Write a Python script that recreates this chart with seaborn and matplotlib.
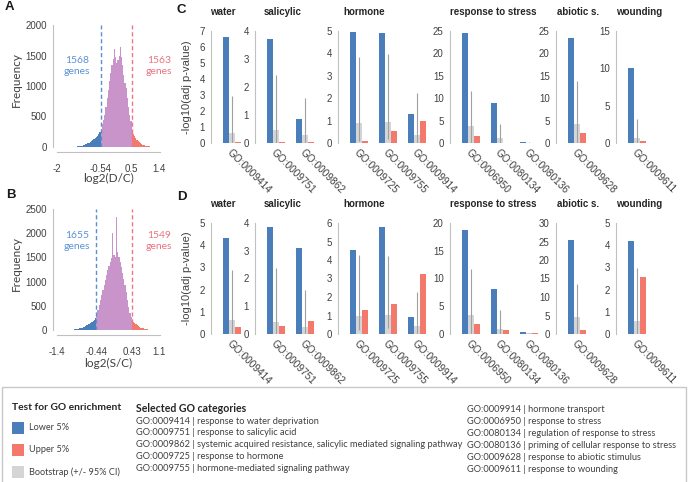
#!/usr/bin/env python3

import numpy as np
import pandas as pd
import matplotlib
matplotlib.use("Agg")
from matplotlib import pyplot as plt
from matplotlib.patches import Rectangle
import seaborn as sns

W, H = 688, 482

blue = "#4a7ebb"
red = "#f2796b"
grey = "#d5d5d5"
purple = "#c894c9"
ci_color = "#a0a0a0"
text_color = "#404040"
axis_color = "#c0c0c0"
blue_text = "#5a93d6"
red_text = "#ea7380"

# ---- histogram data (bar heights) ----
a_cuts = (-0.54, 0.5)
a_xticks = [-2, -0.54, 0.5, 1.4]
a_yticks = [0, 500, 1000, 1500, 2000]
a_range = (-1.5, 1.3)
a_lower_counts = [2, 3, 5, 7, 9, 12, 15, 19, 24, 29, 35, 42, 50, 59, 69, 80,
                  93, 107, 123, 141, 162, 186, 214, 250]
a_middle_counts = [300, 380, 450, 520, 650, 800, 940, 1080, 1220, 1340, 1450,
                   1600, 1480, 1380, 1420, 1500, 1640, 1480, 1340, 1180, 1050,
                   960, 800, 650, 520, 420]
a_upper_counts = [260, 215, 178, 146, 118, 95, 76, 60, 47, 37, 29, 22, 17, 13,
                  10, 8, 6, 4, 3, 2]
a_genes = ("1568", "1563")

b_cuts = (-0.44, 0.43)
b_xticks = [-1.4, -0.44, 0.43, 1.1]
b_yticks = [0, 500, 1000, 1500, 2000, 2500]
b_range = (-1.1, 0.97)
b_lower_counts = [2, 4, 6, 9, 12, 16, 21, 27, 34, 42, 51, 61, 72, 85, 99, 114,
                  131, 150, 170, 192, 216, 245]
b_middle_counts = [330, 420, 520, 620, 720, 830, 930, 1040, 1140, 1230, 1320,
                   1400, 1480, 2000, 1550, 1500, 2330, 1620, 1500, 1400, 1310,
                   1180, 1050, 920, 780, 620, 480, 360, 260]
b_upper_counts = [210, 175, 145, 120, 98, 80, 64, 51, 40, 31, 24, 18, 13, 9, 6,
                  4, 3, 2]
b_genes = ("1655", "1549")

# ---- GO enrichment data ----
group_names = ["water", "salicylic", "hormone", "response to stress",
               "abiotic s.", "wounding"]
group_terms = [
    ["GO:0009414"],
    ["GO:0009751", "GO:0009862"],
    ["GO:0009725", "GO:0009755", "GO:0009914"],
    ["GO:0006950", "GO:0080134", "GO:0080136"],
    ["GO:0009628"],
    ["GO:0009611"],
]
series_names = ["Lower 5%", "Bootstrap", "Upper 5%"]

c_ymax = [7, 4, 5, 25, 25, 15]
c_ystep = [1, 1, 1, 5, 5, 5]
c_lower = [6.6, 3.70, 0.87, 4.95, 4.92, 1.28, 24.6, 9.0, 0.3, 23.5, 10.05]
c_boot = [0.62, 0.45, 0.27, 0.90, 0.94, 0.37, 3.75, 1.1, 0.1, 4.35, 0.68]
c_ci_low = [0, 0, 0, 0.1, 0.2, 0, 0, 0, 0, 0, 0]
c_ci_high = [2.94, 2.42, 1.61, 3.82, 3.97, 2.21, 11.5, 4.35, 0.3, 13.75, 3.2]
c_upper = [0.05, 0.02, 0.02, 0.07, 0.54, 0.96, 1.5, 0.05, 0.05, 2.25, 0.22]

d_ymax = [5, 4, 6, 20, 30, 5]
d_ystep = [1, 1, 1, 5, 5, 1]
d_lower = [4.33, 3.84, 3.10, 4.53, 5.80, 0.93, 18.8, 8.05, 0.36, 25.3, 4.2]
d_boot = [0.63, 0.45, 0.25, 0.99, 1.04, 0.45, 3.5, 0.96, 0.15, 4.5, 0.57]
d_ci_low = [0, 0, 0, 0.23, 0.3, 0, 0, 0, 0, 0, 0]
d_ci_high = [2.88, 2.38, 1.58, 4.25, 4.2, 2.28, 11.7, 4.4, 0.2, 13.5, 2.97]
d_upper = [0.33, 0.30, 0.48, 1.29, 1.6, 3.24, 1.86, 0.78, 0.2, 1.2, 2.57]

# ---- legend text ----
test_title = "Test for GO enrichment"
test_labels = ["Lower 5%", "Upper 5%", "Bootstrap (+/- 95% CI)"]
go_title = "Selected GO categories"
go_left = [
    "GO:0009414 | response to water deprivation",
    "GO:0009751 | response to salicylic acid",
    "GO:0009862 | systemic acquired resistance, salicylic mediated signaling pathway",
    "GO:0009725 | response to hormone",
    "GO:0009755 | hormone-mediated signaling pathway",
]
go_right = [
    "GO:0009914 | hormone transport",
    "GO:0006950 | response to stress",
    "GO:0080134 | regulation of response to stress",
    "GO:0080136 | priming of cellular response to stress",
    "GO:0009628 | response to abiotic stimulus",
    "GO:0009611 | response to wounding",
]

calibri_like = ["Lato", "DejaVu Sans"]


def px_axes(fig, left, top, width, height):
    return fig.add_axes([left / W, 1 - (top + height) / H, width / W, height / H])


def ftext(fig, x, y, s, **kw):
    return fig.text(x / W, 1 - y / H, s, **kw)


def draw_histogram(fig, top, height, rng, cuts, counts, xticks, yticks,
                   xlim, genes, xlabel, label_y, genes_y):
    ax = px_axes(fig, 57, top, 103, height)
    parts = [
        (rng[0], cuts[0], counts[0], blue),
        (cuts[0], cuts[1], counts[1], purple),
        (cuts[1], rng[1], counts[2], red),
    ]
    for lo, hi, cnt, col in parts:
        edges = np.linspace(lo, hi, len(cnt) + 1)
        df = pd.DataFrame({"v": (edges[:-1] + edges[1:]) / 2, "n": cnt})
        sns.histplot(data=df, x="v", weights="n", bins=list(edges), color=col,
                     alpha=1, linewidth=0, ax=ax)
    ax.axvline(cuts[0], color="#5b8fd3", ls=(0, (3, 2)), lw=1.0)
    ax.axvline(cuts[1], color="#ef7585", ls=(0, (3, 2)), lw=1.0)
    ax.set_xlim(*xlim)
    ax.set_ylim(0, yticks[-1])
    ax.set_xticks(xticks)
    ax.set_xticklabels([f"{t:g}" for t in xticks])
    ax.set_yticks(yticks)
    ax.set_xlabel("")
    ax.set_ylabel("")
    sns.despine(ax=ax)
    ax.spines["left"].set_position(("outward", 3))
    ax.spines["bottom"].set_position(("outward", 3.6))
    for side in ["left", "bottom"]:
        ax.spines[side].set_color(axis_color)
        ax.spines[side].set_linewidth(0.8)
    ax.tick_params(axis="both", labelsize=7, colors=axis_color,
                   labelcolor=text_color, length=2.5, width=0.7, pad=2)
    ax.tick_params(axis="x", pad=6)
    ftext(fig, 16, top + height / 2 - 6, "Frequency", rotation=90, ha="center",
          va="center", fontsize=8.5, color=text_color, family=calibri_like)
    ftext(fig, 108, label_y, xlabel, ha="center", va="center", fontsize=8.5,
          color=text_color, family=calibri_like)
    ftext(fig, 77, genes_y, f"{genes[0]}\ngenes", ha="center", va="center",
          fontsize=7.5, color=blue_text, family=calibri_like, linespacing=1.25)
    ftext(fig, 159, genes_y, f"{genes[1]}\ngenes", ha="center", va="center",
          fontsize=7.5, color=red_text, family=calibri_like, linespacing=1.25)


def draw_go_panel(fig, top, height, ymaxes, ysteps, lower, boot, ci_low,
                  ci_high, upper):
    lefts = [211, 255, 338, 450, 556, 616]
    title_dx = [-1, 9, 5, 0, 1, 0]
    k = 0
    for i, (name, terms) in enumerate(zip(group_names, group_terms)):
        n = len(terms)
        sl = slice(k, k + n)
        k += n
        df = pd.DataFrame({
            "go": terms * 3,
            "series": [s for s in series_names for _ in terms],
            "value": lower[sl] + boot[sl] + upper[sl],
        })
        ax = px_axes(fig, lefts[i], top, 29 * (n + 0.17), height)
        sns.barplot(data=df, x="go", y="value", hue="series", order=terms,
                    hue_order=series_names, palette=[blue, grey, red],
                    width=0.62, saturation=1, errorbar=None, legend=False,
                    linewidth=0, ax=ax)
        ax.vlines(range(n), ci_low[sl], ci_high[sl], color=ci_color, lw=0.8,
                  zorder=5)
        ax.set_xlim(-0.72, n - 1 + 0.45)
        ax.set_ylim(0, ymaxes[i])
        ax.set_yticks(np.arange(0, ymaxes[i] + ysteps[i], ysteps[i]))
        ax.set_xticks(range(n))
        ax.set_xticklabels(terms, rotation=-45, ha="left", va="top",
                           rotation_mode="anchor", fontsize=7.3,
                           color=text_color)
        ax.set_xlabel("")
        ax.set_ylabel("")
        sns.despine(ax=ax, bottom=True)
        ax.spines["left"].set_color(axis_color)
        ax.spines["left"].set_linewidth(0.8)
        ax.tick_params(axis="y", labelsize=7, colors=axis_color,
                       labelcolor=text_color, length=2.5, width=0.7, pad=2)
        ax.tick_params(axis="x", length=0, pad=3)
        ax.annotate(name, xy=(0, 1), xycoords="axes fraction",
                    xytext=(title_dx[i] * 0.72, 13.5), textcoords="offset points",
                    ha="left", va="center", fontsize=7, fontweight="bold",
                    color="#262626")
    ftext(fig, 187, top + height / 2, "-log10(adj p-value)", rotation=90,
          ha="center", va="center", fontsize=8, color=text_color)


def draw_legend(fig):
    fig.add_artist(Rectangle((2 / W, -0.01), 684 / W, (482 - 387) / H + 0.01,
                             transform=fig.transFigure, fill=False,
                             edgecolor="#c8c8c8", lw=1))
    ftext(fig, 12, 408, test_title, ha="left", va="center", fontsize=7.4,
          fontweight="bold", color="#262626", family=calibri_like)
    ftext(fig, 136, 408, go_title, ha="left", va="center", fontsize=7.6,
          fontweight="bold", color="#262626", family=calibri_like)
    for j, (label, col) in enumerate(zip(test_labels, [blue, red, grey])):
        y = 428 + 22 * j
        fig.add_artist(Rectangle((12 / W, 1 - (y + 6) / H), 12 / W, 12 / H,
                                 transform=fig.transFigure, color=col, lw=0))
        ftext(fig, 29, y, label, ha="left", va="center", fontsize=6.6,
              color=text_color, family=calibri_like)
    for j, line in enumerate(go_left):
        ftext(fig, 136, 421 + 11.9 * j, line, ha="left", va="center",
              fontsize=6.7, color=text_color, family=calibri_like)
    for j, line in enumerate(go_right):
        ftext(fig, 467, 409.5 + 11.9 * j, line, ha="left", va="center",
              fontsize=6.7, color=text_color, family=calibri_like)


def main():
    sns.set_theme(style="white")
    plt.rcParams["font.family"] = ["Liberation Sans", "DejaVu Sans"]
    fig = plt.figure(figsize=(W / 100, H / 100), dpi=100)

    draw_histogram(fig, 25, 122, a_range,
                   a_cuts, (a_lower_counts, a_middle_counts, a_upper_counts),
                   a_xticks, a_yticks, (-2, 1.45), a_genes, "log2(D/C)",
                   178, 66)
    draw_histogram(fig, 209, 121, b_range,
                   b_cuts, (b_lower_counts, b_middle_counts, b_upper_counts),
                   b_xticks, b_yticks, (-1.4, 1.12), b_genes, "log2(S/C)",
                   363, 241)

    draw_go_panel(fig, 31, 112, c_ymax, c_ystep, c_lower, c_boot, c_ci_low,
                  c_ci_high, c_upper)
    draw_go_panel(fig, 223, 111, d_ymax, d_ystep, d_lower, d_boot, d_ci_low,
                  d_ci_high, d_upper)

    for letter, x, y in [("A", 9, 7), ("B", 11, 195), ("C", 181, 10),
                         ("D", 182, 197)]:
        ftext(fig, x, y, letter, ha="center", va="center", fontsize=9.5,
              fontweight="bold", color="#1a1a1a")

    draw_legend(fig)
    fig.savefig("out.png", dpi=100)


if __name__ == "__main__":
    main()
